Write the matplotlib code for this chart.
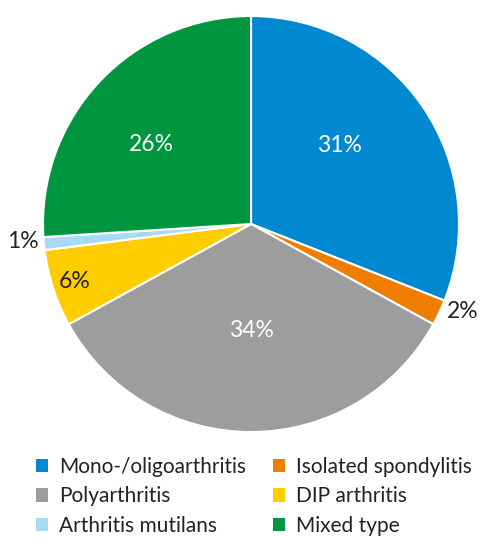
import matplotlib
matplotlib.use("Agg")
import matplotlib.pyplot as plt
import numpy as np
from matplotlib.patches import Patch

categories = ["Mono-/oligoarthritis", "Isolated spondylitis", "Polyarthritis",
              "DIP arthritis", "Arthritis mutilans", "Mixed type"]
values = [31, 2, 34, 6, 1, 26]
colors = ["#0089D0", "#EE7D00", "#9D9D9D", "#FFCC00", "#A6DAF5", "#009640"]
label_colors = ["white", "#222222", "white", "#222222", "#222222", "white"]
label_dist = [0.57, 1.1, 0.51, 0.89, 1.1, 0.61]
label_shift = [7.4, 2.7, 0, 0, -1, 4.6]

plt.rcParams['font.family'] = ['Lato', 'DejaVu Sans']

fig = plt.figure(figsize=(4.8, 5.38), dpi=100)
ax = fig.add_axes([0.0896, 0.197, 0.8667, 0.7732])
wedges, _ = ax.pie(values, colors=colors, startangle=90, counterclock=False,
                   wedgeprops=dict(edgecolor="white", linewidth=1.5))
ax.set_xlim(-1, 1)
ax.set_ylim(-1, 1)
ax.set_aspect('auto')

for w, v, c, d, s in zip(wedges, values, label_colors, label_dist, label_shift):
    ang = np.deg2rad((w.theta1 + w.theta2) / 2 + s)
    ax.text(d * np.cos(ang), d * np.sin(ang), f"{v}%", ha="center", va="center",
            color=c, fontsize=16.5, fontweight="normal")

order = [0, 2, 4, 1, 3, 5]
handles = [Patch(facecolor=colors[i], edgecolor="none") for i in order]
labels = [categories[i] for i in order]
leg = fig.legend(handles, labels, ncol=2, loc="upper left",
                 bbox_to_anchor=(0.053, 0.17), frameon=False,
                 prop=dict(size=15, weight="normal"),
                 handlelength=0.6, handleheight=0.6, handletextpad=0.5,
                 columnspacing=1.3, labelspacing=0.45, borderpad=0)
for t in leg.get_texts():
    t.set_color("#222222")
fig.savefig("out.png", dpi=100)
